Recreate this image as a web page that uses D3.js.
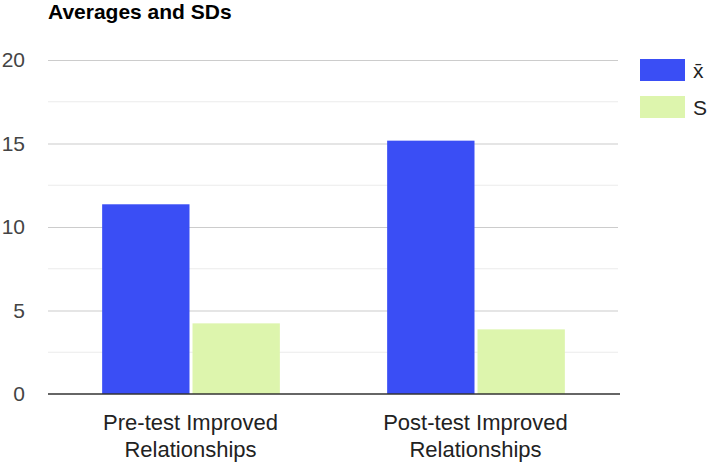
<!DOCTYPE html>
<html>
<head>
<meta charset="utf-8">
<script src="https://cdn.jsdelivr.net/npm/d3@7"></script>
<style>
  body { margin: 0; background: #fff; }
  text { font-family: "Liberation Sans", Arial, sans-serif; }
</style>
</head>
<body>
<svg id="chart" width="709" height="465"></svg>
<script>
// values
const categories = ['Pre-test Improved Relationships', 'Post-test Improved Relationships'];
const seriesNames = ['x̄', 'S'];
const meanValues = [11.36, 15.17];
const sdValues = [4.23, 3.87];
const yTicks = [0, 5, 10, 15, 20];
const minorTicks = [2.5, 7.5, 12.5, 17.5];

const colors = ['#3a4ef5', '#ddf5ad'];

const svg = d3.select('#chart');
const margin = {top: 60, right: 91, bottom: 71, left: 48};
const width = 709 - margin.left - margin.right;
const height = 465 - margin.top - margin.bottom;

const g = svg.append('g')
	.attr('transform', 'translate(' + margin.left + ',' + margin.top + ')');

const x0 = d3.scaleBand()
	.domain(categories)
	.range([0, width])
	.paddingInner(0.38)
	.paddingOuter(0.19);

const x1 = d3.scaleBand()
	.domain(seriesNames)
	.range([0, x0.bandwidth()])
	.padding(0);

const y = d3.scaleLinear()
	.domain([0, 20])
	.range([height, 0]);

// minor grid
g.append('g').selectAll('line')
	.data(minorTicks)
	.enter().append('line')
	.attr('x1', 0).attr('x2', width)
	.attr('y1', (d) => y(d)).attr('y2', (d) => y(d))
	.style('stroke', '#ebebeb')
	.style('stroke-width', 1);

// major grid + labels
const yAxis = g.append('g')
	.call(d3.axisLeft(y).tickValues(yTicks).tickSize(-width).tickPadding(23))
	.call((a) => a.select('.domain').remove());

yAxis.selectAll('.tick line')
	.style('stroke', (d) => d === 0 ? 'none' : '#cccccc')
	.style('stroke-width', 1.2);

yAxis.selectAll('.tick text')
	.style('font-size', '21px')
	.style('font-family', '"Liberation Sans", Arial, sans-serif')
	.style('fill', '#444');

const rows = categories.map((c, i) => ({cat: c, vals: [meanValues[i], sdValues[i]]}));

const groups = g.append('g').selectAll('.group')
	.data(rows)
	.enter().append('g')
	.attr('class', 'group')
	.attr('transform', (d) => 'translate(' + x0(d.cat) + ',0)');

groups.selectAll('rect')
	.data((d) => d.vals.map((v, j) => ({name: seriesNames[j], value: v, j: j})))
	.enter().append('rect')
	.attr('x', (d) => x1(d.name) + (d.j === 0 ? 0 : 2))
	.attr('width', (d) => x1.bandwidth() - 1)
	.attr('y', (d) => y(d.value))
	.attr('height', (d) => height - y(d.value))
	.style('fill', (d) => colors[d.j]);

// baseline
g.append('line')
	.attr('x1', 0).attr('x2', width + 2)
	.attr('y1', y(0)).attr('y2', y(0))
	.style('stroke', '#333')
	.style('stroke-width', 1.5);

// category labels, two lines each
const xLabels = g.append('g').selectAll('text')
	.data(categories)
	.enter().append('text')
	.attr('x', (d) => x0(d) + x0.bandwidth() / 2)
	.attr('y', height + 36)
	.attr('text-anchor', 'middle')
	.style('font-size', '22px')
	.style('fill', '#222');

xLabels.append('tspan')
	.attr('x', (d) => x0(d) + x0.bandwidth() / 2)
	.text((d) => d.split(' ').slice(0, 2).join(' '));

xLabels.append('tspan')
	.attr('x', (d) => x0(d) + x0.bandwidth() / 2)
	.attr('dy', 27)
	.text((d) => d.split(' ').slice(2).join(' '));

// title
svg.append('text')
	.attr('x', 48)
	.attr('y', 19)
	.style('font-size', '21px')
	.style('font-weight', 'bold')
	.style('fill', '#000')
	.text('Averages and SDs');

// legend
const legend = svg.append('g')
	.attr('transform', 'translate(640,59)');

const items = legend.selectAll('.legend-item')
	.data(seriesNames)
	.enter().append('g')
	.attr('class', 'legend-item')
	.attr('transform', (d, i) => 'translate(0,' + (i * 37) + ')');

items.append('rect')
	.attr('width', 45)
	.attr('height', 22)
	.style('fill', (d, i) => colors[i]);

items.append('text')
	.attr('x', 53)
	.attr('y', 19)
	.style('font-size', '21px')
	.style('fill', '#222')
	.text((d) => d);
</script>
</body>
</html>
